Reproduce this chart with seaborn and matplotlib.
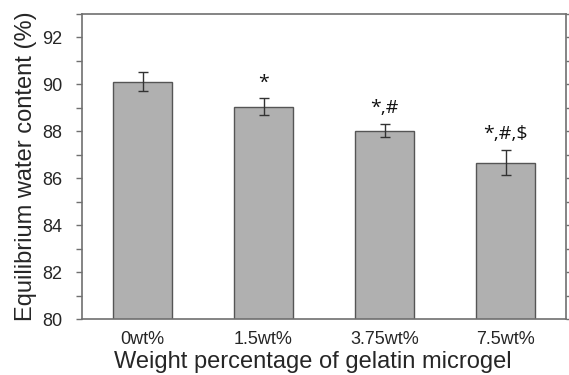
import matplotlib
matplotlib.use("Agg")
import matplotlib.pyplot as plt
from matplotlib.ticker import MultipleLocator
import seaborn as sns
import pandas as pd

categories = ["0wt%", "1.5wt%", "3.75wt%", "7.5wt%"]
values = [90.12, 89.04, 88.03, 86.67]
errors = [0.41, 0.36, 0.29, 0.52]
marks = ["", "*", "*,#", "*,#,$"]

sns.set_theme(style="white")
plt.rcParams['font.family'] = ['Liberation Sans', 'DejaVu Sans']

df = pd.DataFrame({"cat": categories, "val": values})

fig = plt.figure(figsize=(5.69, 3.75), dpi=100)
ax = fig.add_axes([82/569, 1 - 319/375, 484/569, 305/375])

sns.barplot(data=df, x="cat", y="val", color="#b0b0b0", edgecolor="#555555",
            linewidth=1.0, width=0.49, saturation=1, ax=ax, errorbar=None)
ax.errorbar(range(len(values)), values, yerr=errors, fmt="none",
            ecolor="#333333", elinewidth=1.0, capsize=3.5, capthick=1.0)

for i, (v, e, m) in enumerate(zip(values, errors, marks)):
    if m:
        ax.text(i, v + e + 0.3, m, ha="center", va="bottom", fontsize=14,
                family=['Open Sans', 'DejaVu Sans'], color="#111111")

ax.set_ylim(80, 93)
ax.set_xlim(-0.5, 3.5)
ax.yaxis.set_major_locator(MultipleLocator(2))
ax.yaxis.set_minor_locator(MultipleLocator(1))
ax.set_yticks([80, 82, 84, 86, 88, 90, 92])
ax.tick_params(axis='y', which='both', left=True, right=True, direction='out',
               length=4, width=1, color="#707070", labelsize=13, pad=10)
ax.tick_params(axis='x', which='both', bottom=False, length=0, labelsize=13, pad=9)
for s in ax.spines.values():
    s.set_color("#707070")
    s.set_linewidth(1.2)

ax.set_xlabel("Weight percentage of gelatin microgel", fontsize=17, labelpad=2)
ax.xaxis.label.set_x(0.476)
ax.set_ylabel("Equilibrium water content (%)", fontsize=17, labelpad=4)

fig.savefig("out.png", dpi=100)
